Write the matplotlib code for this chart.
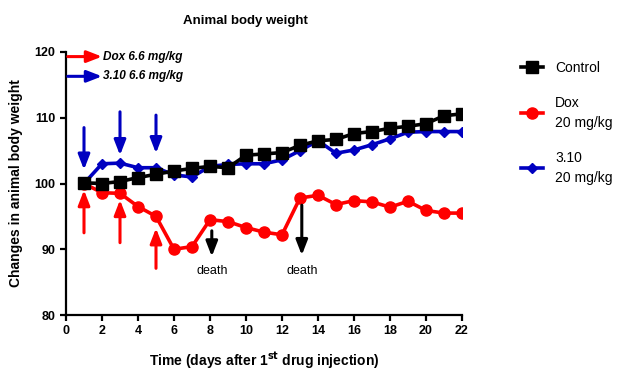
import matplotlib
matplotlib.use("Agg")
import matplotlib.pyplot as plt
from matplotlib.lines import Line2D

plt.rcParams['font.family'] = ['Liberation Sans', 'DejaVu Sans']

days = list(range(1, 23))
control = [100.1, 100.0, 100.3, 100.9, 101.4, 101.9, 102.3, 102.6, 102.4, 104.3, 104.5, 104.7,
           105.8, 106.5, 106.7, 107.6, 107.9, 108.4, 108.7, 109.1, 110.3, 110.6]
dox = [100.0, 98.6, 98.5, 96.5, 95.0, 90.0, 90.4, 94.5, 94.2, 93.3, 92.6, 92.2,
       97.8, 98.2, 96.8, 97.4, 97.2, 96.4, 97.3, 95.9, 95.5, 95.5]
c310 = [100.0, 103.0, 103.1, 102.4, 102.4, 101.3, 101.0, 102.6, 102.9, 103.0, 103.0, 103.6,
        105.0, 106.5, 104.6, 105.1, 105.9, 106.8, 107.8, 107.9, 107.9, 107.9]

labels = ["Control", "Dox\n20 mg/kg", "3.10\n20 mg/kg"]
inj_days = [1, 3, 5]
blue_arrow_tail = [108.5, 110.9, 110.4]
blue_arrow_tip = [102.1, 104.3, 104.6]
red_arrow_tail = [92.5, 91.0, 87.1]
red_arrow_tip = [99.0, 97.5, 93.2]
death_days = [8.1, 13.1]
death_tail = [92.8, 96.7]
death_tip = [88.9, 89.1]
xticks = list(range(0, 23, 2))
yticks = [80, 90, 100, 110, 120]

fig = plt.figure(figsize=(6.3, 3.69), dpi=100)
ax = fig.add_axes([66/630, 1-315/369, (462-66)/630, (315-52)/369])

lw = 2.6
ax.plot(days, control, color='black', lw=lw, marker='s', ms=8, zorder=5)
ax.plot(days, dox, color='#ff0000', lw=lw, marker='o', ms=8, zorder=4)
ax.plot(days, c310, color='#0000c0', lw=lw, marker='D', ms=5.5, zorder=3)

def arrow(x, y0, y1, color):
    ax.annotate('', xy=(x, y1), xytext=(x, y0),
                arrowprops=dict(arrowstyle='-|>,head_length=0.9,head_width=0.35',
                                color=color, lw=2.2, shrinkA=0, shrinkB=0), zorder=6)

for d, t0, t1 in zip(inj_days, blue_arrow_tail, blue_arrow_tip):
    arrow(d, t0, t1, '#0000c0')
for d, t0, t1 in zip(inj_days, red_arrow_tail, red_arrow_tip):
    arrow(d, t0, t1, '#ff0000')
for d, t0, t1 in zip(death_days, death_tail, death_tip):
    arrow(d, t0, t1, 'black')
    ax.text(d, 87.6, "death", ha='center', va='top', fontsize=9)

# inset legend for injection arrows
for yy, col, txt in [(119.3, '#ff0000', "Dox 6.6 mg/kg"), (116.3, '#0000c0', "3.10 6.6 mg/kg")]:
    ax.annotate('', xy=(2.0, yy), xytext=(0.1, yy),
                arrowprops=dict(arrowstyle='-|>,head_length=0.9,head_width=0.35',
                                color=col, lw=2.2, shrinkA=0, shrinkB=0))
    ax.text(2.05, yy, txt, ha='left', va='center', fontsize=8.5,
            fontweight='bold', fontstyle='italic')

ax.set_xlim(0, 22)
ax.set_ylim(80, 120)
ax.set_xticks(xticks)
ax.set_yticks(yticks)
ax.spines['top'].set_visible(False)
ax.spines['right'].set_visible(False)
ax.spines['left'].set_linewidth(1.6)
ax.spines['bottom'].set_linewidth(1.6)
ax.tick_params(width=1.6, length=4, labelsize=9)
for lab in ax.get_xticklabels() + ax.get_yticklabels():
    lab.set_fontweight('bold')

fig.text(245/630, 1-21/369, "Animal body weight", fontsize=9.5, fontweight='bold',
         ha='center', va='center')
ax.set_xlabel("Time (days after 1$^{\\mathbf{st}}$ drug injection)", fontsize=10,
              fontweight='bold', labelpad=9)
ax.set_ylabel("Changes in animal body weight", fontsize=10, fontweight='bold', labelpad=8)

handles = [Line2D([], [], color='black', lw=lw, marker='s', ms=8),
           Line2D([], [], color='#ff0000', lw=lw, marker='o', ms=8),
           Line2D([], [], color='#0000c0', lw=lw, marker='D', ms=5.5)]
leg = fig.legend(handles, labels, loc='upper left', bbox_to_anchor=(508/630, 1-48/369),
                 frameon=False, fontsize=10, handlelength=1.6, handletextpad=0.9,
                 labelspacing=1.55)
for t in leg.get_texts():
    t.set_linespacing(1.5)

fig.savefig("out.png", dpi=100)
